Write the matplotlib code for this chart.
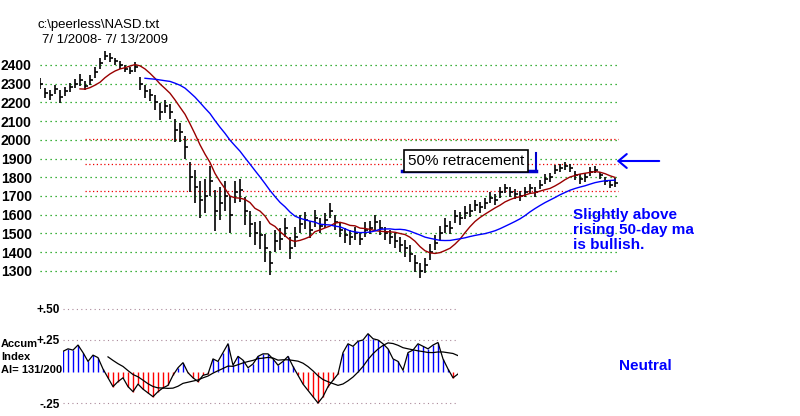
import matplotlib
matplotlib.use("Agg")
import matplotlib.pyplot as plt
import numpy as np
import pandas as pd

plt.rcParams['font.family'] = ['Liberation Sans', 'DejaVu Sans']

closes = [2300,2250,2240,2270,2230,2260,2280,2300,2320,2290,2320,2360,2410,2450,2440,2420,
          2400,2380,2370,2390,2300,2260,2240,2200,2150,2180,2150,2050,2040,1960,1800,1750,
          1680,1700,1780,1620,1660,1700,1600,1720,1730,1620,1550,1500,1490,1420,1340,1460,
          1470,1530,1420,1480,1550,1570,1520,1580,1540,1570,1620,1560,1520,1490,1480,1500,
          1470,1520,1530,1560,1530,1500,1480,1460,1440,1420,1390,1340,1300,1330,1400,1450,
          1500,1540,1530,1590,1580,1610,1620,1650,1640,1660,1690,1680,1720,1740,1720,1710,
          1700,1720,1740,1720,1760,1790,1800,1840,1850,1860,1850,1810,1790,1800,1830,1840,
          1810,1780,1760,1770]
ranges = [60,50,50,50,70,50,50,50,60,50,50,60,60,50,50,40,
          40,40,40,50,70,70,60,80,90,70,80,120,100,120,160,180,
          200,180,160,220,180,160,200,120,120,150,140,120,150,150,130,120,
          120,100,120,110,100,90,90,90,80,80,80,80,80,80,80,70,
          70,80,70,80,80,70,70,80,80,90,90,90,80,80,90,80,
          80,80,70,70,70,70,70,60,60,60,60,60,60,50,50,50,
          50,50,50,50,50,50,50,50,40,40,40,50,50,50,50,40,
          40,40,40,50]
fib_levels = [2005, 1870, 1725]
price_ticks = list(range(1300, 2500, 100))

ai_vals = [.16,.18,.17,.21,.15,.08,.13,.11,.02,-.05,-.12,-.08,-.05,-.12,-.16,-.10,
           -.14,-.17,-.20,-.16,-.13,-.11,-.03,.03,.07,-.01,-.05,-.08,-.03,-.02,.10,.08,
           .15,.22,.05,.12,.09,.03,.06,.12,.14,.14,.10,.05,.08,.12,.04,-.03,
           -.10,-.15,-.20,-.25,-.20,-.12,-.07,-.02,.15,.22,.20,.24,.25,.30,.26,.25,
           .22,.18,.10,.08,.01,.15,.17,.22,.20,.18,.21,.23,.10,.02,-.05,-.02]
ai_ticks = [0.5, 0.25, -0.25]
ai_tick_labels = ['+.50', '+.25', '-.25']

W, H = 800, 416
fig = plt.figure(figsize=(8, 4.16), dpi=100)

def px_axes(x0, x1, y0, y1):
    return fig.add_axes([x0 / W, (H - y1) / H, (x1 - x0) / W, (y1 - y0) / H])

# price panel
ax = px_axes(40, 620, 40, 280)
n = len(closes)
x = np.arange(n)
ax.set_xlim(0, 116)
ax.set_ylim(2400 - (280 - 65) / 0.187, 2400 + 25 / 0.187)
for p in price_ticks:
    ax.axhline(p, xmin=0, xmax=578 / 580, color='#009900', ls=(0, (1, 3)), lw=0.9)
for p in fib_levels:
    ax.axhline(p, xmin=45 / 580, xmax=578 / 580, color='#ee0000', ls=(0, (1, 2)), lw=0.9)
c = np.array(closes); r = np.array(ranges)
ax.vlines(x, c - r / 2, c + r / 2, color='black', lw=1.2)
ax.hlines(c, x, x + 0.6, color='black', lw=1.2)
s = pd.Series(closes)
ax.plot(x, s.rolling(9).mean(), color='#990000', lw=1)
ax.plot(x, s.rolling(22).mean(), color='#0000ff', lw=1)
ax.set_yticks(price_ticks)
ax.set_yticklabels([str(p) for p in price_ticks], fontweight='bold', fontsize=10)
ax.tick_params(axis='y', length=0, pad=6)
ax.set_xticks([])
for sp in ax.spines.values():
    sp.set_visible(False)
ax.patch.set_alpha(0)

# AI panel
ax2 = px_axes(63, 458, 300, 410)
m = len(ai_vals)
xa = np.arange(m)
ax2.set_xlim(0, m - 1)
ax2.set_ylim(-(410 - 371.5) / 126, (371.5 - 300) / 126)
for t in ai_ticks:
    ax2.axhline(t, color='#aa8899', ls=(0, (1, 3)), lw=0.8)
a = np.array(ai_vals)
cols = ['#0000ff' if v >= 0 else '#ff0000' for v in a]
ax2.vlines(xa, 0, a, colors=cols, lw=1)
ax2.plot(xa, a, color='black', lw=0.9)
ax2.plot(xa, pd.Series(ai_vals).rolling(10).mean(), color='black', lw=0.9)
ax2.set_yticks(ai_ticks)
ax2.set_yticklabels(ai_tick_labels, fontweight='bold', fontsize=8.5)
ax2.tick_params(axis='y', length=0, pad=2)
ax2.set_xticks([])
for sp in ax2.spines.values():
    sp.set_visible(False)
ax2.patch.set_alpha(0)

# texts
def ftext(xp, yp, s, **kw):
    fig.text(xp / W, 1 - yp / H, s, **kw)

ftext(38, 25, 'c:\\peerless\\NASD.txt', fontsize=9.5, va='center')
ftext(42, 40, '7/ 1/2008- 7/ 13/2009', fontsize=9.5, va='center')
for yy, t in [(344, 'Accum'), (357, 'Index'), (370, 'AI= 131/200')]:
    ftext(1, yy, t, fontsize=8, fontweight='bold', va='center')
ftext(619, 366, 'Neutral', fontsize=11, fontweight='bold', color='#0000ff', va='center')
ftext(573, 230, 'Slightly above\nrising 50-day ma\nis bullish.', fontsize=11, fontweight='bold',
      color='#0000ff', va='center', linespacing=1.1)
ftext(466, 161, '50% retracement', fontsize=11, ha='center', va='center',
      bbox=dict(boxstyle='square,pad=0.25', fc='white', ec='black', lw=1.2))
fig.add_artist(plt.Line2D([402 / W, 536 / W], [1 - 171 / H, 1 - 171 / H], color='#0000cc', lw=2.5))
fig.add_artist(plt.Line2D([536 / W, 536 / W], [1 - 171 / H, 1 - 153 / H], color='#0000cc', lw=1.5))
fig.add_artist(matplotlib.patches.FancyArrowPatch((662 / W, 1 - 161 / H), (614 / W, 1 - 161 / H),
               transform=fig.transFigure, arrowstyle='->,head_length=6,head_width=5',
               color='#0000ff', lw=1.5))

fig.savefig('out.png', dpi=100)
